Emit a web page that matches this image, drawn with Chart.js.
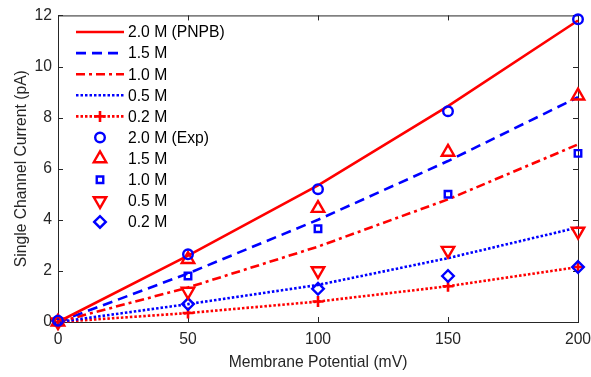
<!DOCTYPE html>
<html>
<head>
<meta charset="utf-8">
<script src="https://cdn.jsdelivr.net/npm/chart.js@4.4.1/dist/chart.umd.min.js"></script>
<style>
    html, body { margin: 0; padding: 0; background: #fff; }
    #wrap { width: 591px; height: 377px; position: relative; }
</style>
</head>
<body>
<div id="wrap"><canvas id="currentChart"></canvas></div>
<script>
// membrane potential (mV)
const potentials = [0, 50, 100, 150, 200];

// PNPB model currents (pA)
const model20 = [0, 2.6, 5.35, 8.45, 11.8];
const model15 = [0, 1.9, 4.0, 6.3, 8.8];
const model10 = [0, 1.35, 2.95, 4.8, 6.95];
const model05 = [0, 0.7, 1.45, 2.5, 3.7];
const model02 = [0, 0.35, 0.8, 1.4, 2.15];

// experimental currents (pA)
const exp20 = [0.05, 2.65, 5.2, 8.25, 11.85];
const exp15 = [0, 2.45, 4.45, 6.65, 8.85];
const exp10 = [0, 1.8, 3.65, 5.0, 6.6];
const exp05 = [0, 1.2, 2.0, 2.8, 3.55];
const exp02 = [0.05, 0.7, 1.3, 1.8, 2.15];

const xTicks = [0, 50, 100, 150, 200];
const yTicks = [0, 2, 4, 6, 8, 10, 12];

const RED = '#ff0000';
const BLUE = '#0000ff';
const INK = '#262626';
const FONT = '"Liberation Sans", Arial, Helvetica, sans-serif';
const FSIZE = 15.7;

function pts(ys) {
    return potentials.map((x, i) => ({ x: x, y: ys[i] }));
}

function modelSet(label, ys, color, dash, extra) {
    return Object.assign({
        label: label,
        data: pts(ys),
        borderColor: color,
        backgroundColor: color,
        borderWidth: 2.6,
        borderDash: dash,
        borderCapStyle: 'butt',
        pointRadius: 0,
        tension: 0,
        clip: false,
        order: 2
    }, extra || {});
}

function expSet(label, ys, color, style, radius, rotation) {
    return {
        label: label,
        data: pts(ys),
        showLine: false,
        borderColor: color,
        backgroundColor: 'rgba(0,0,0,0)',
        pointStyle: style,
        pointRadius: radius,
        pointRotation: rotation || 0,
        pointBorderWidth: 2.4,
        pointBorderColor: color,
        pointBackgroundColor: 'rgba(0,0,0,0)',
        clip: false,
        order: 1
    };
}

const datasets = [
    modelSet('2.0 M (PNPB)', model20, RED, []),
    modelSet('1.5 M', model15, BLUE, [10, 6]),
    modelSet('1.0 M', model10, RED, [9, 4, 3, 4]),
    modelSet('0.5 M', model05, BLUE, [2.5, 2]),
    modelSet('0.2 M', model02, RED, [2.5, 2], {
        pointStyle: 'cross', pointRadius: 5.5, pointBorderWidth: 2.6,
        pointBorderColor: RED
    }),
    expSet('2.0 M (Exp)', exp20, BLUE, 'circle', 4.8),
    expSet('1.5 M', exp15, RED, 'triangle', 7.2),
    expSet('1.0 M', exp10, BLUE, 'rect', 4.6),
    expSet('0.5 M', exp05, RED, 'triangle', 7.2, 180),
    expSet('0.2 M', exp02, BLUE, 'rectRot', 5.8)
];

// box outline with inward ticks on all four sides
const boxPlugin = {
    id: 'boxPlugin',
    beforeDatasetsDraw(chart) {
        const { ctx, chartArea: a, scales: { x, y } } = chart;
        const tick = 5;
        ctx.save();
        ctx.strokeStyle = INK;
        ctx.lineWidth = 1;
        ctx.strokeRect(a.left + 0.5, a.top + 0.5, a.right - a.left, a.bottom - a.top);
        ctx.beginPath();
        xTicks.forEach(v => {
            const px = Math.round(x.getPixelForValue(v)) + 0.5;
            ctx.moveTo(px, a.bottom); ctx.lineTo(px, a.bottom - tick);
            ctx.moveTo(px, a.top); ctx.lineTo(px, a.top + tick);
        });
        yTicks.forEach(v => {
            const py = Math.round(y.getPixelForValue(v)) + 0.5;
            ctx.moveTo(a.left, py); ctx.lineTo(a.left + tick, py);
            ctx.moveTo(a.right, py); ctx.lineTo(a.right - tick, py);
        });
        ctx.stroke();
        ctx.restore();
    }
};

// MATLAB style legend in the upper left corner, no frame
const legendPlugin = {
    id: 'legendPlugin',
    afterDatasetsDraw(chart) {
        const ctx = chart.ctx;
        const x0 = 76, x1 = 124, textX = 128, top = 32, step = 21.1;
        ctx.save();
        ctx.font = FSIZE + 'px ' + FONT;
        ctx.textBaseline = 'middle';
        chart.data.datasets.forEach((ds, i) => {
            const yy = top + i * step;
            if (ds.showLine !== false) {
                ctx.save();
                ctx.strokeStyle = ds.borderColor;
                ctx.lineWidth = ds.borderWidth;
                ctx.setLineDash(ds.borderDash);
                ctx.lineCap = 'butt';
                ctx.beginPath();
                ctx.moveTo(x0, yy);
                ctx.lineTo(x1, yy);
                ctx.stroke();
                ctx.restore();
            }
            if (ds.pointStyle) {
                ctx.save();
                ctx.setLineDash([]);
                ctx.strokeStyle = ds.pointBorderColor;
                ctx.fillStyle = 'rgba(0,0,0,0)';
                ctx.lineWidth = ds.pointBorderWidth;
                Chart.helpers.drawPoint(ctx, {
                    pointStyle: ds.pointStyle,
                    radius: ds.pointRadius,
                    rotation: ds.pointRotation || 0,
                    borderWidth: ds.pointBorderWidth
                }, (x0 + x1) / 2, yy);
                ctx.restore();
            }
            ctx.fillStyle = '#000';
            ctx.fillText(ds.label, textX, yy + 1);
        });
        ctx.restore();
    }
};

new Chart(document.getElementById('currentChart').getContext('2d'), {
    type: 'line',
    data: { datasets: datasets },
    options: {
        responsive: true,
        maintainAspectRatio: false,
        animation: false,
        events: [],
        layout: { padding: { left: 0, right: 0, top: 6, bottom: 0 } },
        plugins: {
            legend: { display: false },
            tooltip: { enabled: false }
        },
        scales: {
            x: {
                type: 'linear',
                min: 0,
                max: 200,
                afterFit(scale) {
                    scale.height = 55;
                    scale.paddingLeft = 0;
                    scale.paddingRight = 13;
                },
                afterBuildTicks(scale) { scale.ticks = xTicks.map(v => ({ value: v })); },
                grid: { display: false, drawTicks: false },
                border: { display: false },
                ticks: { padding: 8, color: INK, font: { family: FONT, size: FSIZE } },
                title: {
                    display: true,
                    text: 'Membrane Potential (mV)',
                    color: INK,
                    font: { family: FONT, size: FSIZE },
                    padding: { top: 0, bottom: 5 }
                }
            },
            y: {
                type: 'linear',
                min: 0,
                max: 12,
                afterFit(scale) { scale.width = 58; },
                afterBuildTicks(scale) { scale.ticks = yTicks.map(v => ({ value: v })); },
                grid: { display: false, drawTicks: false },
                border: { display: false },
                ticks: { padding: 6, color: INK, font: { family: FONT, size: FSIZE } },
                title: {
                    display: true,
                    text: 'Single Channel Current (pA)',
                    color: INK,
                    font: { family: FONT, size: FSIZE },
                    padding: { top: 12, bottom: 0 }
                }
            }
        }
    },
    plugins: [boxPlugin, legendPlugin]
});
</script>
</body>
</html>
